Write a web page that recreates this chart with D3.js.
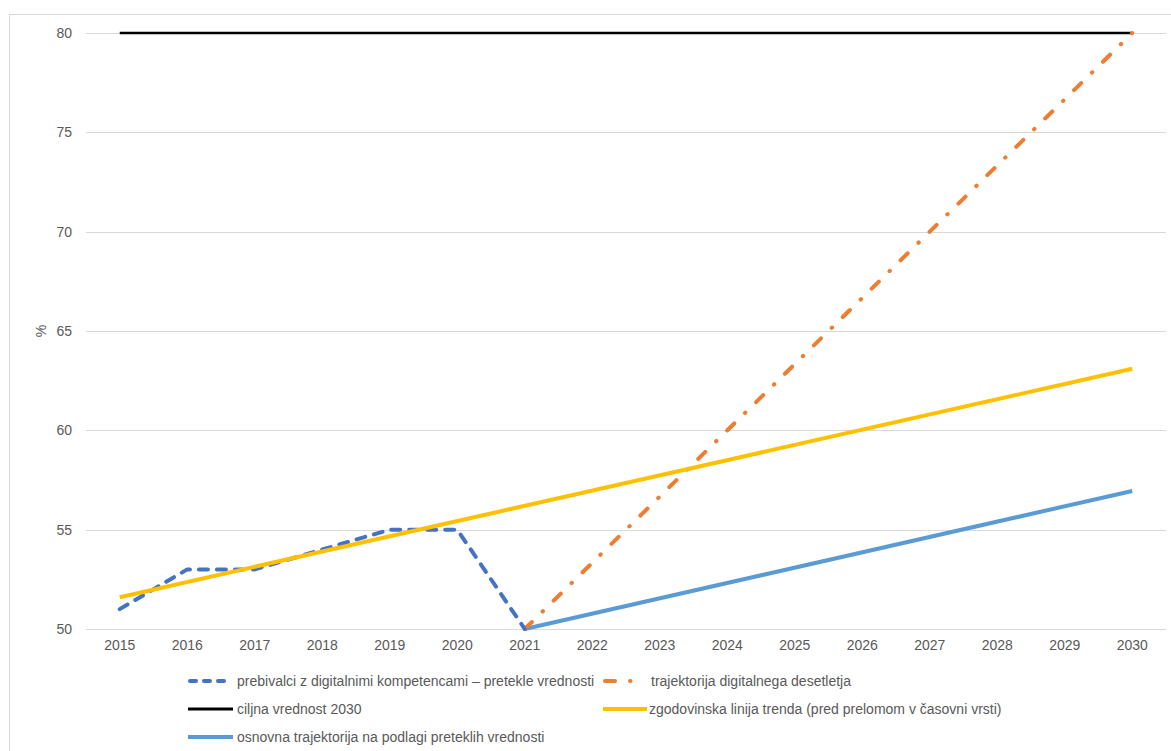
<!DOCTYPE html>
<html><head><meta charset="utf-8">
<script src="https://cdn.jsdelivr.net/npm/d3@7/dist/d3.min.js"></script>
<style>
html,body{margin:0;padding:0;background:#fff;}
svg text{font-family:"Liberation Sans",Arial,sans-serif;fill:#595959;}
</style></head>
<body>
<svg id="chart" width="1171" height="751"></svg>
<script>
const years = ["2015","2016","2017","2018","2019","2020","2021","2022","2023","2024","2025","2026","2027","2028","2029","2030"];
const yTicks = [50,55,60,65,70,75,80];
// prebivalci z digitalnimi kompetencami – pretekle vrednosti (2015–2021)
const pastYears = ["2015","2016","2017","2018","2019","2020","2021"];
const pastValues = [51,53,53,54,55,55,50];
// trajektorija digitalnega desetletja (2021–2030)
const decadeYears = ["2021","2030"];
const decadeValues = [50,80];
// ciljna vrednost 2030
const targetYears = ["2015","2030"];
const targetValues = [80,80];
// zgodovinska linija trenda
const trendYears = ["2015","2030"];
const trendValues = [51.6,63.1];
// osnovna trajektorija na podlagi preteklih vrednosti
const baseYears = ["2021","2030"];
const baseValues = [50,56.95];

const legendLabels = [
  "prebivalci z digitalnimi kompetencami – pretekle vrednosti",
  "trajektorija digitalnega desetletja",
  "ciljna vrednost 2030",
  "zgodovinska linija trenda (pred prelomom v časovni vrsti)",
  "osnovna trajektorija na podlagi preteklih vrednosti"
];

const svg = d3.select("#chart");
const mLeft = 86, mRight = 1166, mTop = 33, mBottom = 629;
const FS = "14px";

// outer chart border
svg.append("rect").attr("x",9.5).attr("y",14.5).attr("width",1180).attr("height",760)
  .attr("fill","none").attr("stroke","#d9d9d9").attr("stroke-width",1);

const x = d3.scaleBand().domain(years).range([mLeft,mRight]).paddingInner(0).paddingOuter(0);
const xc = d => x(d) + x.bandwidth()/2;
const y = d3.scaleLinear().domain([50,80]).range([mBottom,mTop]);

// gridlines
svg.append("g").selectAll("line").data(yTicks).join("line")
  .attr("x1",mLeft).attr("x2",mRight)
  .attr("y1",d=>Math.round(y(d))+0.5).attr("y2",d=>Math.round(y(d))+0.5)
  .attr("stroke","#d9d9d9").attr("stroke-width",1);

// y axis labels
const yAxis = d3.axisLeft(y).tickValues(yTicks).tickSize(0).tickPadding(0);
const gy = svg.append("g").attr("transform",`translate(72,0)`).call(yAxis);
gy.select(".domain").remove();
gy.selectAll("text").style("font-size",FS).attr("fill","#595959").style("font-family","Liberation Sans");

// x axis labels
const xAxis = d3.axisBottom(x).tickSize(0).tickPadding(0);
const gx = svg.append("g").attr("transform",`translate(0,${mBottom+11})`).call(xAxis);
gx.select(".domain").remove();
gx.selectAll("text").style("font-size",FS).attr("fill","#595959").style("font-family","Liberation Sans");

// y label
svg.append("text").attr("transform","translate(46,331) rotate(-90)")
  .attr("text-anchor","middle").style("font-size",FS).text("%");

function pts(ys, vs){ return ys.map((yy,i)=>[xc(yy), y(vs[i])]); }

// target line
svg.append("path").attr("d", d3.line()(pts(targetYears,targetValues)))
  .attr("fill","none").attr("stroke","#000").attr("stroke-width",2.5);

// base trajectory
svg.append("path").attr("d", d3.line()(pts(baseYears,baseValues)))
  .attr("fill","none").attr("stroke","#5B9BD5").attr("stroke-width",4);

// decade trajectory
svg.append("path").attr("d", d3.line()(pts(decadeYears,decadeValues)))
  .attr("fill","none").attr("stroke","#ED7D31").attr("stroke-width",4)
  .attr("stroke-linecap","round").attr("stroke-dasharray","10,15,0.5,15");

// past values
svg.append("path").attr("d", d3.line()(pts(pastYears,pastValues)))
  .attr("fill","none").attr("stroke","#4472C4").attr("stroke-width",4)
  .attr("stroke-linecap","round").attr("stroke-linejoin","round").attr("stroke-dasharray","9,9");

// trend line
svg.append("path").attr("d", d3.line()(pts(trendYears,trendValues)))
  .attr("fill","none").attr("stroke","#FFC000").attr("stroke-width",4);

// legend
const legendItems = [
  {label:legendLabels[0], x1:190, x2:230, tx:237, y:681, color:"#4472C4", dash:"6,8", cap:"round", w:4},
  {label:legendLabels[1], x1:605, x2:634, tx:651, y:681, color:"#ED7D31", dash:"10,15,0.5,15", cap:"round", w:4},
  {label:legendLabels[2], x1:188, x2:233, tx:237, y:709, color:"#000", dash:null, cap:"butt", w:3},
  {label:legendLabels[3], x1:603, x2:647, tx:649, y:709, color:"#FFC000", dash:null, cap:"butt", w:4},
  {label:legendLabels[4], x1:188, x2:233, tx:237, y:737, color:"#5B9BD5", dash:null, cap:"butt", w:4}
];
const lg = svg.append("g").selectAll("g").data(legendItems).join("g");
lg.append("line").attr("x1",d=>d.x1).attr("x2",d=>d.x2).attr("y1",d=>d.y).attr("y2",d=>d.y)
  .attr("stroke",d=>d.color).attr("stroke-width",d=>d.w)
  .attr("stroke-linecap",d=>d.cap)
  .attr("stroke-dasharray",d=>d.dash);
lg.append("text").attr("x",d=>d.tx).attr("y",d=>d.y).attr("dy","0.35em")
  .style("font-size",FS).text(d=>d.label);
</script>
</body></html>
